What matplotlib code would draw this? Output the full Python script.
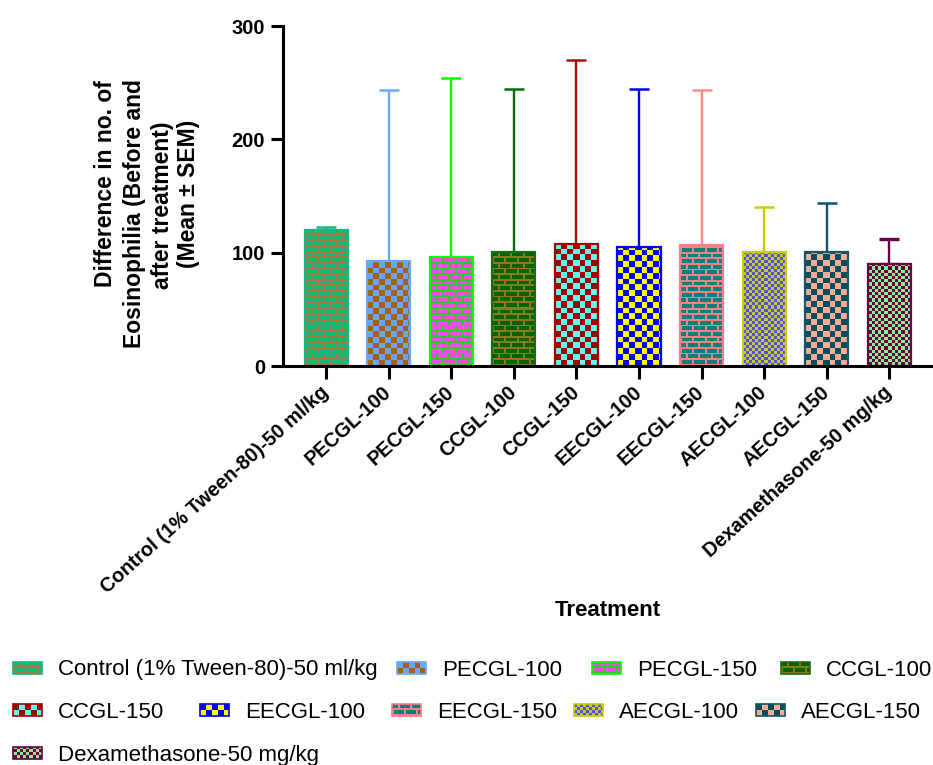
import numpy as np
import matplotlib
matplotlib.use('Agg')
import matplotlib.pyplot as plt
from matplotlib.colors import to_rgb
from matplotlib.patches import Rectangle
from matplotlib.legend_handler import HandlerBase

# ---------------- data ----------------
categories = ["Control (1% Tween-80)-50 ml/kg", "PECGL-100", "PECGL-150", "CCGL-100",
              "CCGL-150", "EECGL-100", "EECGL-150", "AECGL-100", "AECGL-150",
              "Dexamethasone-50 mg/kg"]
means = [120, 93, 96.5, 101, 107.7, 104.8, 106.5, 101, 101, 89.8]
sem = [2.5, 150.6, 158, 143.5, 162.3, 140, 137.1, 39.3, 42.8, 22]
yticks = [0, 100, 200, 300]
ylabel_lines = ["Difference in no. of", "Eosinophilia (Before and",
                "after treatment)", "(Mean \u00b1 SEM)"]

# ---------------- styles ----------------
kinds = ['brick', 'checker', 'brick', 'brick', 'checker', 'checker', 'brick', 'checker', 'checker', 'checker']
col_a = ['#14B87A', '#66A8FF', '#FF48E8', '#006400', '#A00000', '#0000FF', '#008080', '#5050E0', '#004F5F', '#90EE90']
col_b = ['#A07A3C', '#A8600A', '#2EC82E', '#8B7A1A', '#5EFFF0', '#FFFF00', '#FF8080', '#C8C830', '#FFAA95', '#660044']
cell = [5.6, 5.7, 5.6, 5.6, 5.8, 5.8, 5.6, 3.0, 5.8, 3.2]
edge = ['#14B87A', '#66AAFF', '#00FF00', '#1A6B1A', '#A00000', '#0000FF', '#FF8080', '#CCCC00', '#115566', '#660044']
errc = ['#14B87A', '#66AAFF', '#00FF00', '#0B6B0B', '#A50F0F', '#0000FF', '#FF8888', '#CCCC00', '#0D5566', '#660044']

plt.rcParams['font.family'] = ['Liberation Sans', 'DejaVu Sans']

W, H, DPI = 933, 765, 100


def texture(i, h, w):
    h = max(int(round(h)), 1)
    w = max(int(round(w)), 1)
    yy, xx = np.mgrid[0:h, 0:w].astype(float)
    ca = np.array(to_rgb(col_a[i]))
    cb = np.array(to_rgb(col_b[i]))
    s = cell[i]
    if kinds[i] == 'checker':
        m = ((np.floor(xx / s) + np.floor(yy / s)) % 2) == 0
        return np.where(m[..., None], cb, ca)
    bw = 12.0
    row = np.floor(yy / s)
    mh = (yy % s) < 1.7
    off = (row % 2) * bw / 2
    mv = ((xx + off) % bw) < 1.5
    m = mh | mv
    return np.where(m[..., None], cb, ca)


fig = plt.figure(figsize=(W / DPI, H / DPI), dpi=DPI)
ax_l, ax_r, ax_t, ax_b = 283, 933, 26, 366
ax = fig.add_axes([ax_l / W, 1 - ax_b / H, (ax_r - ax_l) / W, (ax_b - ax_t) / H])

x = np.arange(len(categories))
xlim = (-0.69, 9.70)
ylim = (0, 300)
bw_ = 0.69
pxx = (ax_r - ax_l) / (xlim[1] - xlim[0])
pxy = (ax_b - ax_t) / (ylim[1] - ylim[0])

# error bars (upward only)
for i in range(len(categories)):
    ax.errorbar(x[i], means[i], yerr=[[0], [sem[i]]], fmt='none', ecolor=errc[i],
                elinewidth=1.7, capsize=7.2, capthick=1.8 if i < 9 else 2.4, zorder=1)

bars = ax.bar(x, means, width=bw_, color=col_a, linewidth=0, zorder=2)
for i, b in enumerate(bars):
    tex = texture(i, means[i] * pxy, bw_ * pxx)
    im = ax.imshow(tex, extent=(x[i] - bw_ / 2, x[i] + bw_ / 2, 0, means[i]),
                   origin='lower', interpolation='nearest', aspect='auto', zorder=3)
    im.set_clip_path(b)
ax.bar(x, means, width=bw_, fill=False, edgecolor=edge, linewidth=1.6, zorder=4)

ax.set_xlim(*xlim)
ax.set_ylim(*ylim)
ax.set_aspect('auto')
ax.set_yticks(yticks)
ax.set_xticks(x)
ax.set_xticklabels(categories, rotation=42, ha='right', va='center',
                   rotation_mode='anchor', fontweight='bold', fontsize=14.3)
for lbl in ax.get_yticklabels():
    lbl.set_fontweight('bold')
    lbl.set_fontsize(14.5)
ax.tick_params(axis='both', width=2.2, length=9, color='black')
ax.tick_params(axis='x', pad=8)
ax.tick_params(axis='y', pad=4)
for s in ['top', 'right']:
    ax.spines[s].set_visible(False)
for s in ['left', 'bottom']:
    ax.spines[s].set_linewidth(2.2)
ax.spines['bottom'].set_zorder(6)
ax.spines['left'].set_zorder(6)

# y-axis title, one text per line as laid out in the reference
ylab_pos = [(106, 184), (135, 214), (163, 205), (189, 194)]
for txt, (tx, ty) in zip(ylabel_lines, ylab_pos):
    fig.text(tx / W, 1 - ty / H, txt, rotation=90, ha='center', va='center',
             fontsize=16.5, fontweight='bold')
fig.text(608 / W, 1 - 611 / H, "Treatment", ha='center', va='center',
         fontsize=16, fontweight='bold')


# ---------------- legend ----------------
class PatternHandler(HandlerBase):
    def create_artists(self, legend, orig_handle, xdescent, ydescent, width, height,
                       fontsize, trans):
        i = int(orig_handle.get_gid())
        k = 72.0 / DPI
        wpx, hpx = 29, 12
        tex = texture(i, hpx, wpx)
        arts = []
        x0, y0 = -xdescent, -ydescent + (height - hpx * k) / 2
        for r in range(hpx):
            for c in range(wpx):
                arts.append(Rectangle((x0 + c * k, y0 + r * k), k, k, facecolor=tex[r, c],
                                      edgecolor='none', linewidth=0, antialiased=False,
                                      transform=trans))
        arts.append(Rectangle((x0, y0), wpx * k, hpx * k, facecolor='none',
                              edgecolor=edge[i], linewidth=1.2, transform=trans))
        return arts


leg_pos = [(13, 670), (397, 670), (592, 670), (781, 670),
           (13, 712), (200, 712), (392, 712), (574, 712), (756, 712),
           (13, 755)]
fs_leg = 16
for i, (lx, ly) in enumerate(leg_pos):
    h = Rectangle((0, 0), 1, 1, gid=str(i))
    fig.legend([h], [categories[i]], loc='center left',
               bbox_to_anchor=(lx / W, 1 - ly / H), bbox_transform=fig.transFigure,
               frameon=False, fontsize=fs_leg, borderpad=0, borderaxespad=0,
               handlelength=29 / 22.2, handleheight=12 / 22.2, handletextpad=16 / 22.2,
               handler_map={Rectangle: PatternHandler()})

fig.savefig('out.png', dpi=DPI)
